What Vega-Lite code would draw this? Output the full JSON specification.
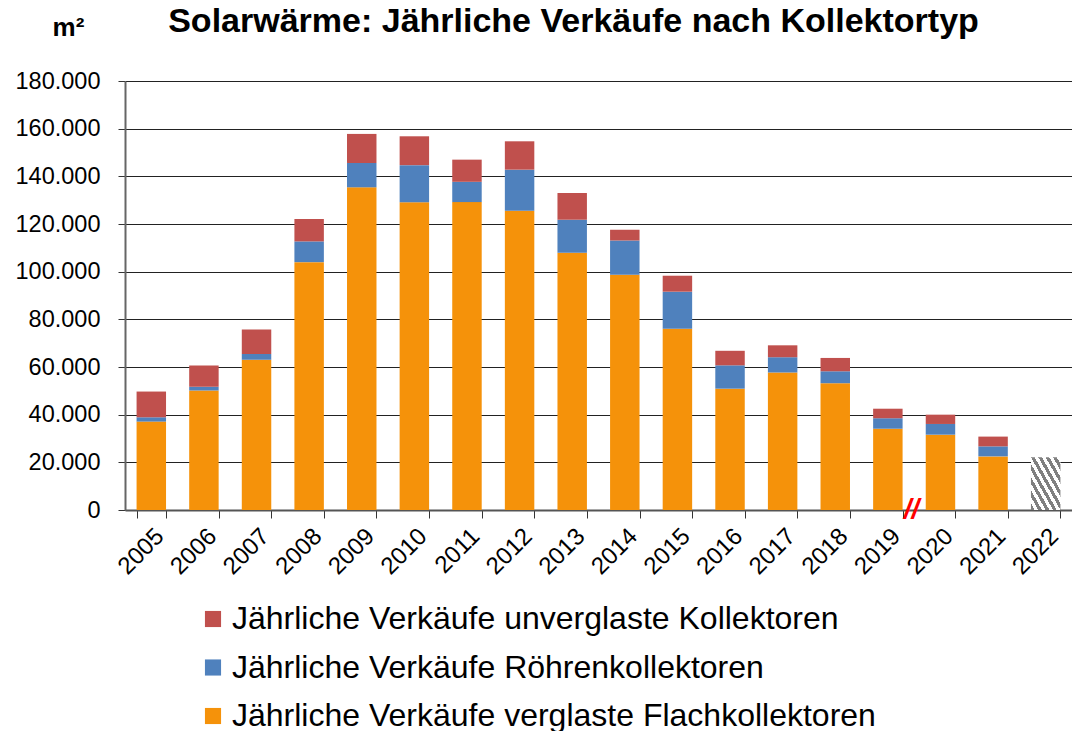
{
  "$schema": "https://vega.github.io/schema/vega-lite/v6.json",
  "width": 947,
  "height": 429,
  "autosize": "none",
  "padding": {"left": 125, "top": 81, "right": 0, "bottom": 221},
  "background": "white",
  "title": {"text": "Solarwärme: Jährliche Verkäufe nach Kollektortyp", "font": "Liberation Sans", "fontSize": 34, "fontWeight": "bold", "color": "#000000", "anchor": "middle", "dx": -25, "offset": -52, "baseline": "alphabetic"},
  "config": {
    "locale": {"number": {"decimal": ",", "thousands": ".", "grouping": [3], "currency": ["", " €"]}},
    "view": {"stroke": null},
    "font": "Liberation Sans"
  },
  "layer": [
    {
      "data": {"values": [
        {"Jahr": "2005", "Typ": "Jährliche Verkäufe verglaste Flachkollektoren", "k": 1, "Wert": 37100},
        {"Jahr": "2005", "Typ": "Jährliche Verkäufe Röhrenkollektoren", "k": 2, "Wert": 1800},
        {"Jahr": "2005", "Typ": "Jährliche Verkäufe unverglaste Kollektoren", "k": 3, "Wert": 10800},
        {"Jahr": "2006", "Typ": "Jährliche Verkäufe verglaste Flachkollektoren", "k": 1, "Wert": 50100},
        {"Jahr": "2006", "Typ": "Jährliche Verkäufe Röhrenkollektoren", "k": 2, "Wert": 1600},
        {"Jahr": "2006", "Typ": "Jährliche Verkäufe unverglaste Kollektoren", "k": 3, "Wert": 8900},
        {"Jahr": "2007", "Typ": "Jährliche Verkäufe verglaste Flachkollektoren", "k": 1, "Wert": 63000},
        {"Jahr": "2007", "Typ": "Jährliche Verkäufe Röhrenkollektoren", "k": 2, "Wert": 2500},
        {"Jahr": "2007", "Typ": "Jährliche Verkäufe unverglaste Kollektoren", "k": 3, "Wert": 10200},
        {"Jahr": "2008", "Typ": "Jährliche Verkäufe verglaste Flachkollektoren", "k": 1, "Wert": 104000},
        {"Jahr": "2008", "Typ": "Jährliche Verkäufe Röhrenkollektoren", "k": 2, "Wert": 8700},
        {"Jahr": "2008", "Typ": "Jährliche Verkäufe unverglaste Kollektoren", "k": 3, "Wert": 9400},
        {"Jahr": "2009", "Typ": "Jährliche Verkäufe verglaste Flachkollektoren", "k": 1, "Wert": 135400},
        {"Jahr": "2009", "Typ": "Jährliche Verkäufe Röhrenkollektoren", "k": 2, "Wert": 10200},
        {"Jahr": "2009", "Typ": "Jährliche Verkäufe unverglaste Kollektoren", "k": 3, "Wert": 12200},
        {"Jahr": "2010", "Typ": "Jährliche Verkäufe verglaste Flachkollektoren", "k": 1, "Wert": 129100},
        {"Jahr": "2010", "Typ": "Jährliche Verkäufe Röhrenkollektoren", "k": 2, "Wert": 15600},
        {"Jahr": "2010", "Typ": "Jährliche Verkäufe unverglaste Kollektoren", "k": 3, "Wert": 12100},
        {"Jahr": "2011", "Typ": "Jährliche Verkäufe verglaste Flachkollektoren", "k": 1, "Wert": 129200},
        {"Jahr": "2011", "Typ": "Jährliche Verkäufe Röhrenkollektoren", "k": 2, "Wert": 8500},
        {"Jahr": "2011", "Typ": "Jährliche Verkäufe unverglaste Kollektoren", "k": 3, "Wert": 9300},
        {"Jahr": "2012", "Typ": "Jährliche Verkäufe verglaste Flachkollektoren", "k": 1, "Wert": 125600},
        {"Jahr": "2012", "Typ": "Jährliche Verkäufe Röhrenkollektoren", "k": 2, "Wert": 17200},
        {"Jahr": "2012", "Typ": "Jährliche Verkäufe unverglaste Kollektoren", "k": 3, "Wert": 11900},
        {"Jahr": "2013", "Typ": "Jährliche Verkäufe verglaste Flachkollektoren", "k": 1, "Wert": 107900},
        {"Jahr": "2013", "Typ": "Jährliche Verkäufe Röhrenkollektoren", "k": 2, "Wert": 13900},
        {"Jahr": "2013", "Typ": "Jährliche Verkäufe unverglaste Kollektoren", "k": 3, "Wert": 11200},
        {"Jahr": "2014", "Typ": "Jährliche Verkäufe verglaste Flachkollektoren", "k": 1, "Wert": 98700},
        {"Jahr": "2014", "Typ": "Jährliche Verkäufe Röhrenkollektoren", "k": 2, "Wert": 14400},
        {"Jahr": "2014", "Typ": "Jährliche Verkäufe unverglaste Kollektoren", "k": 3, "Wert": 4500},
        {"Jahr": "2015", "Typ": "Jährliche Verkäufe verglaste Flachkollektoren", "k": 1, "Wert": 76100},
        {"Jahr": "2015", "Typ": "Jährliche Verkäufe Röhrenkollektoren", "k": 2, "Wert": 15500},
        {"Jahr": "2015", "Typ": "Jährliche Verkäufe unverglaste Kollektoren", "k": 3, "Wert": 6700},
        {"Jahr": "2016", "Typ": "Jährliche Verkäufe verglaste Flachkollektoren", "k": 1, "Wert": 50900},
        {"Jahr": "2016", "Typ": "Jährliche Verkäufe Röhrenkollektoren", "k": 2, "Wert": 9800},
        {"Jahr": "2016", "Typ": "Jährliche Verkäufe unverglaste Kollektoren", "k": 3, "Wert": 6100},
        {"Jahr": "2017", "Typ": "Jährliche Verkäufe verglaste Flachkollektoren", "k": 1, "Wert": 57700},
        {"Jahr": "2017", "Typ": "Jährliche Verkäufe Röhrenkollektoren", "k": 2, "Wert": 6400},
        {"Jahr": "2017", "Typ": "Jährliche Verkäufe unverglaste Kollektoren", "k": 3, "Wert": 5000},
        {"Jahr": "2018", "Typ": "Jährliche Verkäufe verglaste Flachkollektoren", "k": 1, "Wert": 53200},
        {"Jahr": "2018", "Typ": "Jährliche Verkäufe Röhrenkollektoren", "k": 2, "Wert": 5000},
        {"Jahr": "2018", "Typ": "Jährliche Verkäufe unverglaste Kollektoren", "k": 3, "Wert": 5600},
        {"Jahr": "2019", "Typ": "Jährliche Verkäufe verglaste Flachkollektoren", "k": 1, "Wert": 34100},
        {"Jahr": "2019", "Typ": "Jährliche Verkäufe Röhrenkollektoren", "k": 2, "Wert": 4400},
        {"Jahr": "2019", "Typ": "Jährliche Verkäufe unverglaste Kollektoren", "k": 3, "Wert": 4000},
        {"Jahr": "2020", "Typ": "Jährliche Verkäufe verglaste Flachkollektoren", "k": 1, "Wert": 31600},
        {"Jahr": "2020", "Typ": "Jährliche Verkäufe Röhrenkollektoren", "k": 2, "Wert": 4500},
        {"Jahr": "2020", "Typ": "Jährliche Verkäufe unverglaste Kollektoren", "k": 3, "Wert": 3900},
        {"Jahr": "2021", "Typ": "Jährliche Verkäufe verglaste Flachkollektoren", "k": 1, "Wert": 22500},
        {"Jahr": "2021", "Typ": "Jährliche Verkäufe Röhrenkollektoren", "k": 2, "Wert": 4200},
        {"Jahr": "2021", "Typ": "Jährliche Verkäufe unverglaste Kollektoren", "k": 3, "Wert": 4100}
      ]},
      "mark": {"type": "bar"},
      "encoding": {
        "x": {
          "field": "Jahr", "type": "nominal",
          "scale": {"domain": ["2005","2006","2007","2008","2009","2010","2011","2012","2013","2014","2015","2016","2017","2018","2019","2020","2021","2022"], "paddingInner": 0.44, "paddingOuter": 0.22},
          "axis": {"title": null, "labelAngle": -45, "labelFontSize": 24, "labelColor": "#000000", "tickBand": "extent", "tickSize": 8, "tickColor": "#333333", "domainColor": "#555555", "domainWidth": 2, "labelPadding": 6}
        },
        "y": {
          "field": "Wert", "type": "quantitative", "stack": "zero",
          "scale": {"domain": [0, 180000], "nice": false},
          "axis": {"title": "m²", "titleAngle": 0, "titleX": -57, "titleY": -54, "titleAlign": "center", "titleBaseline": "middle", "titleFontSize": 26, "titleFontWeight": "bold", "titleColor": "#000000", "format": ",d", "values": [0,20000,40000,60000,80000,100000,120000,140000,160000,180000], "labelFontSize": 23.5, "labelColor": "#000000", "labelPadding": 18, "tickSize": 7, "tickColor": "#333333", "domainColor": "#666666", "domainWidth": 2, "gridColor": "#222222", "gridWidth": 1.2}
        },
        "color": {
          "field": "Typ", "type": "nominal",
          "scale": {"domain": ["Jährliche Verkäufe unverglaste Kollektoren", "Jährliche Verkäufe Röhrenkollektoren", "Jährliche Verkäufe verglaste Flachkollektoren"], "range": ["#C0504D", "#4F81BD", "#F5920A"]},
          "legend": {"title": null, "orient": "none", "legendX": 72, "legendY": 522, "direction": "vertical", "symbolType": "square", "symbolSize": 260, "symbolStrokeWidth": 0, "labelFontSize": 32, "labelColor": "#000000", "rowPadding": 16.5, "labelOffset": 3, "labelLimit": 900}
        },
        "order": {"field": "k", "type": "quantitative"}
      }
    },
    {
      "data": {"values": [{"Jahr": "2022", "Wert": 22100}]},
      "mark": {"type": "bar", "fill": {"gradient": "linear", "x1": 0, "y1": 1, "x2": 1, "y2": 0, "stops": [
        {"offset": 0, "color": "#808080"}, {"offset": 0.0625, "color": "#808080"}, {"offset": 0.0625, "color": "#ffffff"}, {"offset": 0.125, "color": "#ffffff"},
        {"offset": 0.125, "color": "#808080"}, {"offset": 0.1875, "color": "#808080"}, {"offset": 0.1875, "color": "#ffffff"}, {"offset": 0.25, "color": "#ffffff"},
        {"offset": 0.25, "color": "#808080"}, {"offset": 0.3125, "color": "#808080"}, {"offset": 0.3125, "color": "#ffffff"}, {"offset": 0.375, "color": "#ffffff"},
        {"offset": 0.375, "color": "#808080"}, {"offset": 0.4375, "color": "#808080"}, {"offset": 0.4375, "color": "#ffffff"}, {"offset": 0.5, "color": "#ffffff"},
        {"offset": 0.5, "color": "#808080"}, {"offset": 0.5625, "color": "#808080"}, {"offset": 0.5625, "color": "#ffffff"}, {"offset": 0.625, "color": "#ffffff"},
        {"offset": 0.625, "color": "#808080"}, {"offset": 0.6875, "color": "#808080"}, {"offset": 0.6875, "color": "#ffffff"}, {"offset": 0.75, "color": "#ffffff"},
        {"offset": 0.75, "color": "#808080"}, {"offset": 0.8125, "color": "#808080"}, {"offset": 0.8125, "color": "#ffffff"}, {"offset": 0.875, "color": "#ffffff"},
        {"offset": 0.875, "color": "#808080"}, {"offset": 0.9375, "color": "#808080"}, {"offset": 0.9375, "color": "#ffffff"}, {"offset": 1, "color": "#ffffff"}
      ]}},
      "encoding": {
        "x": {"field": "Jahr", "type": "nominal"},
        "y": {"field": "Wert", "type": "quantitative"}
      }
    },
    {
      "data": {"values": [{"Jahr": "2019", "Wert": 0}]},
      "mark": {"type": "text", "text": "//", "color": "#FF0000", "fontSize": 28, "fontWeight": "bold", "fontStyle": "italic", "baseline": "middle", "align": "center"},
      "encoding": {
        "x": {"field": "Jahr", "type": "nominal", "bandPosition": 1.3},
        "y": {"field": "Wert", "type": "quantitative"}
      }
    }
  ]
}
